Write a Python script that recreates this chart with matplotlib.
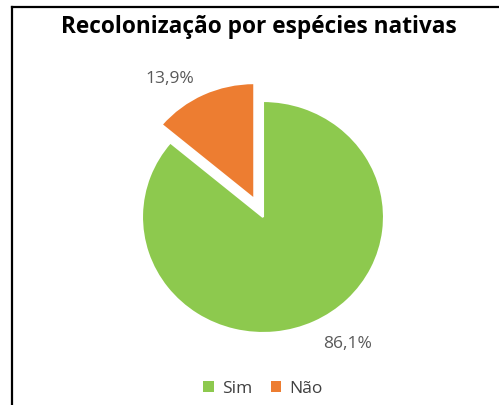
import numpy as np
import matplotlib.pyplot as plt
from matplotlib.lines import Line2D
from matplotlib.patches import Patch

# data
categories = ['Sim', 'Não']
values = [86.1, 13.9]
pct_labels = ['86,1%', '13,9%']
colors = ['#8DC94E', '#ED7D31']
explode = [0.0, 0.17]

title = 'Recolonização por espécies nativas'

W, H = 499, 405
fig = plt.figure(figsize=(W / 100, H / 100), dpi=100)
ax = fig.add_axes([0, 0, 1, 1])

wedges, _ = ax.pie(values, colors=colors, explode=explode, startangle=90,
                   counterclock=False, radius=1.0,
                   wedgeprops=dict(edgecolor='white', linewidth=1.5))

# map data units to pixels: centre (263, 217) px, radius ~121 x 116 px
cx, cy, rx, ry = 263, 217, 121, 116
ax.set_aspect('auto')
ax.set_xlim(-cx / rx, (W - cx) / rx)
ax.set_ylim(-(H - cy) / ry, cy / ry)
ax.axis('off')

# percentage labels (polar position: angle deg, distance in radii)
label_pos = [(-57.6, 1.30), (123.0, 1.42)]
for txt, (ang, dist) in zip(pct_labels, label_pos):
    a = np.radians(ang)
    ax.text(dist * np.cos(a), dist * np.sin(a), txt, ha='center', va='center',
            fontsize=12.5, color='#595959', family='Open Sans')

fig.text(259 / W, 1 - 27 / H, title, ha='center', va='center',
         fontsize=16.3, fontweight='bold', color='black', family='Open Sans')

handles = [Patch(facecolor=c, edgecolor='none') for c in colors]
fig.legend(handles, categories, loc='center', bbox_to_anchor=(263 / W, 1 - 389 / H),
           ncol=2, frameon=False, handlelength=0.6, handleheight=0.6,
           handletextpad=0.45, columnspacing=1.1,
           prop=dict(family='Open Sans', size=12.5), labelcolor='#404040')

# chart border (left and top edges visible in crop)
fig.add_artist(Line2D([11.5 / W, 11.5 / W], [0, 1 - 7 / H], color='black', lw=1.6))
fig.add_artist(Line2D([11.5 / W, 1], [1 - 7 / H, 1 - 7 / H], color='black', lw=1.6))

fig.savefig('out.png', dpi=100)
